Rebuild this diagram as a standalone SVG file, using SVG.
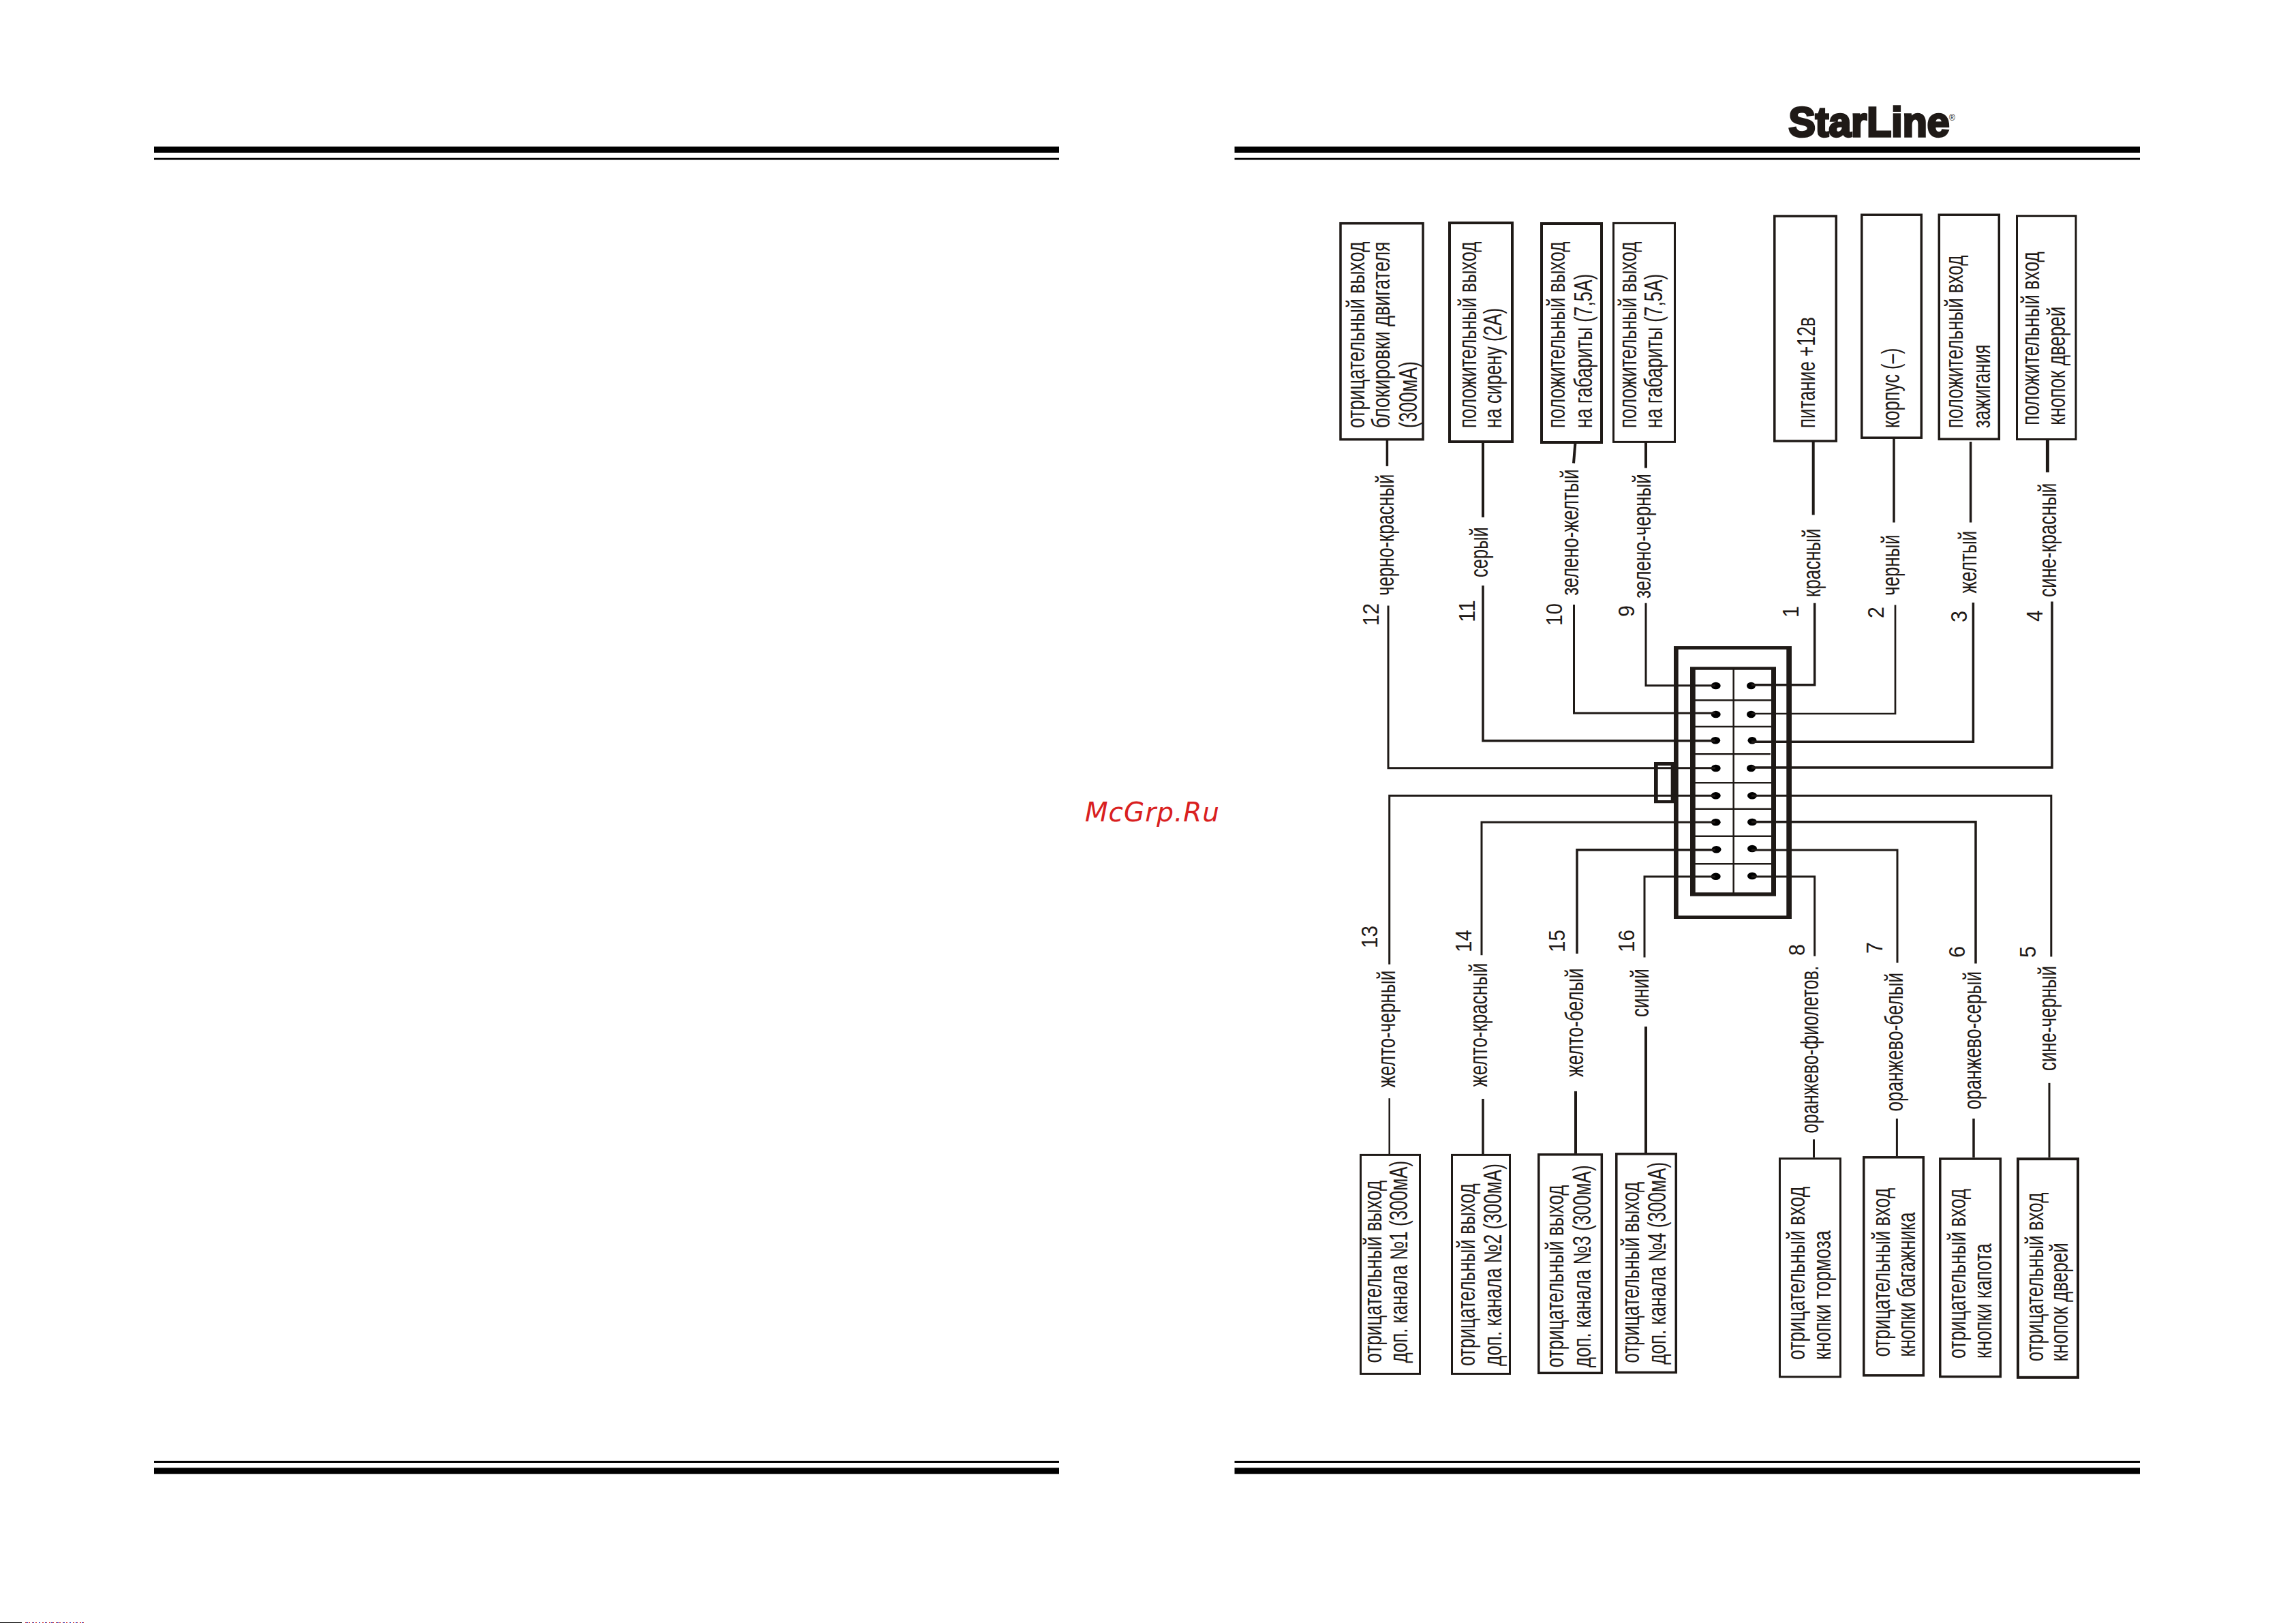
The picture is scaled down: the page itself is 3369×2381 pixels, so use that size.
<svg xmlns="http://www.w3.org/2000/svg" width="3369" height="2381" viewBox="0 0 3369 2381">
<style>
text{font-family:"Liberation Sans",Arial,sans-serif;fill:#1f1a17}
.t{font-size:36px}
.n{font-size:34px}
.b{fill:#fff;stroke:#1f1a17}
.w{fill:none;stroke:#1f1a17}
.r{fill:#000}
</style>
<rect width="3369" height="2381" fill="#fff"/>
<g id="page-rules">
<rect class="r" x="226" y="215" width="1328" height="9"/>
<rect class="r" x="226" y="231.7" width="1328" height="2.8"/>
<rect class="r" x="1811.5" y="215" width="1328.5" height="9"/>
<rect class="r" x="1811.5" y="231.7" width="1328.5" height="2.8"/>
<rect class="r" x="226" y="2143" width="1328" height="3"/>
<rect class="r" x="226" y="2153.3" width="1328" height="9"/>
<rect class="r" x="1811.5" y="2143" width="1328.5" height="3"/>
<rect class="r" x="1811.5" y="2153.3" width="1328.5" height="9"/>
<rect class="r" x="0" y="2380" width="32" height="1"/>
<path d="M37 2380.5H123" stroke="#d02020" stroke-width="1" stroke-dasharray="2 3"/>
<path d="M39 2380.5H123" stroke="#2030c0" stroke-width="1" stroke-dasharray="2 7"/>
</g>
<g id="logo">
<text x="2624.5" y="200" font-size="62" font-weight="bold" stroke="#1f1a17" stroke-width="3.5" textLength="236" lengthAdjust="spacingAndGlyphs">StarLine</text>
<text x="2860" y="177" font-size="12">®</text>
</g>
<g id="watermark">
<text x="1592" y="1205" font-size="39" font-style="italic" textLength="197" style="font-family:'DejaVu Sans',sans-serif;fill:#d92020">McGrp.Ru</text>
</g>
<g id="connector-block">
<path fill="#1f1a17" fill-rule="evenodd" d="M2456 948H2629V1348H2456ZM2462.7 952.7V1343.3H2621.3V952.7ZM2480 978.3V1314.7H2606V978.3ZM2487.7 982.7H2599V1309.3H2487.7Z"/>
<path fill="#1f1a17" fill-rule="evenodd" d="M2427 1118H2457V1178.3H2427ZM2432.7 1123.3V1174H2451.7V1123.3Z"/>
<path class="w" stroke-width="2.5" d="M2543.7 980V1312M2487 1027.3H2599M2487 1066H2599M2487 1106.3H2598M2487 1148.3H2599M2487 1186.7H2599M2487 1226.7H2599M2487 1267.3H2599"/>
<g fill="#000">
<ellipse cx="2517.7" cy="1006" rx="7" ry="5.3"/><ellipse cx="2517.7" cy="1048" rx="7" ry="5.3"/><ellipse cx="2517.2" cy="1086.3" rx="7" ry="5.3"/><ellipse cx="2517.7" cy="1127" rx="7" ry="5.3"/><ellipse cx="2517.7" cy="1167.3" rx="7" ry="5.3"/><ellipse cx="2517.7" cy="1206.3" rx="7" ry="5.3"/><ellipse cx="2518.5" cy="1246.3" rx="7" ry="5.3"/><ellipse cx="2517.7" cy="1285.7" rx="7" ry="5.3"/>
<ellipse cx="2569.5" cy="1006" rx="6.5" ry="5.3"/><ellipse cx="2569.5" cy="1048" rx="6.5" ry="5.3"/><ellipse cx="2571" cy="1086.3" rx="6.5" ry="5.3"/><ellipse cx="2569.5" cy="1127" rx="6.5" ry="5.3"/><ellipse cx="2571" cy="1167.3" rx="7" ry="5.3"/><ellipse cx="2571" cy="1206" rx="7" ry="5.3"/><ellipse cx="2571" cy="1245" rx="7" ry="5.3"/><ellipse cx="2571" cy="1285" rx="7" ry="5.3"/>
</g>
</g>
<g id="connectors">
<path class="w" stroke-width="3" d="M2415 884.8V1005.7H2517"/>
<path class="w" stroke-width="3" d="M2309.5 887V1046.3H2517"/>
<path class="w" stroke-width="3.5" d="M2176 858.9V1086.7H2517"/>
<path class="w" stroke-width="3" d="M2037 888.4V1126.7H2517"/>
<path class="w" stroke-width="3" d="M2038.7 1414.7V1167.3H2517"/>
<path class="w" stroke-width="3" d="M2174 1401.3V1206.3H2517"/>
<path class="w" stroke-width="3.5" d="M2314 1399V1246.7H2517"/>
<path class="w" stroke-width="3" d="M2413 1404.5V1286H2517"/>
<path class="w" stroke-width="3.5" d="M2662.7 884.8V1004.7H2570"/>
<path class="w" stroke-width="2.7" d="M2781 887.5V1047H2570"/>
<path class="w" stroke-width="3.5" d="M2895.4 883.9V1088.3H2570"/>
<path class="w" stroke-width="3.5" d="M3011 882.6V1126H2570"/>
<path class="w" stroke-width="3" d="M3009.8 1403.6V1167.3H2570"/>
<path class="w" stroke-width="3.5" d="M2899 1413.4V1205.7H2570"/>
<path class="w" stroke-width="3" d="M2784 1412.5V1247H2570"/>
<path class="w" stroke-width="3" d="M2662.7 1402.7V1286H2570"/>
<path class="w" stroke-width="3.5" d="M2035.4 646V683.9"/>
<path class="w" stroke-width="4" d="M2176 648V758.9"/>
<path class="w" stroke-width="4" d="M2311.5 649L2309 679.5"/>
<path class="w" stroke-width="4" d="M2415 648V686.6"/>
<path class="w" stroke-width="4" d="M2660.7 647V755.4"/>
<path class="w" stroke-width="3.5" d="M2779 642V766.5"/>
<path class="w" stroke-width="3.5" d="M2891.6 648V766.5"/>
<path class="w" stroke-width="5" d="M3004.4 645V692.9"/>
<path class="w" stroke-width="2.5" d="M2038.7 1611.2V1693"/>
<path class="w" stroke-width="3.5" d="M2176 1612V1693"/>
<path class="w" stroke-width="4" d="M2312 1600.9V1692"/>
<path class="w" stroke-width="4" d="M2415 1506V1691"/>
<path class="w" stroke-width="3" d="M2661.5 1671.4V1698"/>
<path class="w" stroke-width="3" d="M2783.4 1641V1696"/>
<path class="w" stroke-width="3.5" d="M2896 1641V1698"/>
<path class="w" stroke-width="3" d="M3007 1588.8V1698"/>
</g>
<g id="wire-labels">
<text class="t" transform="translate(2044.5 873.7) rotate(-90)" textLength="178" lengthAdjust="spacingAndGlyphs">черно-красный</text>
<text class="t" transform="translate(2183 846.9) rotate(-90)" textLength="73.7" lengthAdjust="spacingAndGlyphs">серый</text>
<text class="t" transform="translate(2316 873.7) rotate(-90)" textLength="185.3" lengthAdjust="spacingAndGlyphs">зелено-желтый</text>
<text class="t" transform="translate(2422 878.1) rotate(-90)" textLength="183" lengthAdjust="spacingAndGlyphs">зелено-черный</text>
<text class="t" transform="translate(2671 875.9) rotate(-90)" textLength="100.5" lengthAdjust="spacingAndGlyphs">красный</text>
<text class="t" transform="translate(2787 873.7) rotate(-90)" textLength="89.3" lengthAdjust="spacingAndGlyphs">черный</text>
<text class="t" transform="translate(2900 870.5) rotate(-90)" textLength="92" lengthAdjust="spacingAndGlyphs">желтый</text>
<text class="t" transform="translate(3017 875.9) rotate(-90)" textLength="167.4" lengthAdjust="spacingAndGlyphs">сине-красный</text>
<text class="t" transform="translate(2047.4 1595.5) rotate(-90)" textLength="171.8" lengthAdjust="spacingAndGlyphs">желто-черный</text>
<text class="t" transform="translate(2182 1594.6) rotate(-90)" textLength="182" lengthAdjust="spacingAndGlyphs">желто-красный</text>
<text class="t" transform="translate(2323 1579.9) rotate(-90)" textLength="159.4" lengthAdjust="spacingAndGlyphs">желто-белый</text>
<text class="t" transform="translate(2418.5 1492) rotate(-90)" textLength="70.6" lengthAdjust="spacingAndGlyphs">синий</text>
<text class="t" transform="translate(2668 1662.5) rotate(-90)" textLength="245.5" lengthAdjust="spacingAndGlyphs">оранжево-фиолетов.</text>
<text class="t" transform="translate(2791.7 1630.4) rotate(-90)" textLength="203.6" lengthAdjust="spacingAndGlyphs">оранжево-белый</text>
<text class="t" transform="translate(2906.6 1627.7) rotate(-90)" textLength="202.7" lengthAdjust="spacingAndGlyphs">оранжево-серый</text>
<text class="t" transform="translate(3017 1571) rotate(-90)" textLength="154" lengthAdjust="spacingAndGlyphs">сине-черный</text>
<text class="n" transform="translate(2022.5 918) rotate(-90)" textLength="33" lengthAdjust="spacingAndGlyphs">12</text>
<text class="n" transform="translate(2163.5 913) rotate(-90)" textLength="33" lengthAdjust="spacingAndGlyphs">11</text>
<text class="n" transform="translate(2292 918) rotate(-90)" textLength="33" lengthAdjust="spacingAndGlyphs">10</text>
<text class="n" transform="translate(2398 905) rotate(-90)" textLength="17" lengthAdjust="spacingAndGlyphs">9</text>
<text class="n" transform="translate(2639 906) rotate(-90)" textLength="17" lengthAdjust="spacingAndGlyphs">1</text>
<text class="n" transform="translate(2763.5 907) rotate(-90)" textLength="17" lengthAdjust="spacingAndGlyphs">2</text>
<text class="n" transform="translate(2886 913) rotate(-90)" textLength="17" lengthAdjust="spacingAndGlyphs">3</text>
<text class="n" transform="translate(2997 912) rotate(-90)" textLength="17" lengthAdjust="spacingAndGlyphs">4</text>
<text class="n" transform="translate(2020.5 1391) rotate(-90)" textLength="33" lengthAdjust="spacingAndGlyphs">13</text>
<text class="n" transform="translate(2159 1397) rotate(-90)" textLength="33" lengthAdjust="spacingAndGlyphs">14</text>
<text class="n" transform="translate(2296 1397) rotate(-90)" textLength="33" lengthAdjust="spacingAndGlyphs">15</text>
<text class="n" transform="translate(2397.8 1397) rotate(-90)" textLength="33" lengthAdjust="spacingAndGlyphs">16</text>
<text class="n" transform="translate(2648 1402) rotate(-90)" textLength="17" lengthAdjust="spacingAndGlyphs">8</text>
<text class="n" transform="translate(2762 1399) rotate(-90)" textLength="17" lengthAdjust="spacingAndGlyphs">7</text>
<text class="n" transform="translate(2883 1405) rotate(-90)" textLength="17" lengthAdjust="spacingAndGlyphs">6</text>
<text class="n" transform="translate(2987.4 1405) rotate(-90)" textLength="17" lengthAdjust="spacingAndGlyphs">5</text>
</g>
<g id="box-12"><rect class="b" x="1967" y="327.7" width="121" height="317" stroke-width="3.5"/>
<text class="t" transform="translate(2001.8 628.1) rotate(-90)" textLength="273.6" lengthAdjust="spacingAndGlyphs">отрицательный выход</text>
<text class="t" transform="translate(2039 628.1) rotate(-90)" textLength="273.6" lengthAdjust="spacingAndGlyphs">блокировки двигателя</text>
<text class="t" transform="translate(2078.5 628.1) rotate(-90)" textLength="98" lengthAdjust="spacingAndGlyphs">(300мА)</text></g>
<g id="box-11"><rect class="b" x="2127" y="327" width="92" height="321" stroke-width="4"/>
<text class="t" transform="translate(2165.6 628.1) rotate(-90)" textLength="273.6" lengthAdjust="spacingAndGlyphs">положительный выход</text>
<text class="t" transform="translate(2203 628.1) rotate(-90)" textLength="176.3" lengthAdjust="spacingAndGlyphs">на сирену (2А)</text></g>
<g id="box-10"><rect class="b" x="2262" y="328" width="88" height="321" stroke-width="4"/>
<text class="t" transform="translate(2296 628.1) rotate(-90)" textLength="273.6" lengthAdjust="spacingAndGlyphs">положительный выход</text>
<text class="t" transform="translate(2335.6 628.1) rotate(-90)" textLength="226.3" lengthAdjust="spacingAndGlyphs">на габариты (7,5А)</text></g>
<g id="box-9"><rect class="b" x="2367.5" y="327.4" width="90" height="321" stroke-width="3"/>
<text class="t" transform="translate(2400.7 628.1) rotate(-90)" textLength="273.6" lengthAdjust="spacingAndGlyphs">положительный выход</text>
<text class="t" transform="translate(2439 628.1) rotate(-90)" textLength="226.3" lengthAdjust="spacingAndGlyphs">на габариты (7,5А)</text></g>
<g id="box-1"><rect class="b" x="2603.8" y="317" width="90.5" height="330" stroke-width="3.5"/>
<text class="t" transform="translate(2662.8 628.1) rotate(-90)" textLength="163" lengthAdjust="spacingAndGlyphs">питание +12в</text></g>
<g id="box-2"><rect class="b" x="2731.8" y="315.2" width="87.5" height="327" stroke-width="3.5"/>
<text class="t" transform="translate(2787 628.1) rotate(-90)" textLength="117.4" lengthAdjust="spacingAndGlyphs">корпус (–)</text></g>
<g id="box-3"><rect class="b" x="2845.3" y="315.2" width="88" height="329" stroke-width="3.5"/>
<text class="t" transform="translate(2880.4 628.1) rotate(-90)" textLength="253.5" lengthAdjust="spacingAndGlyphs">положительный вход</text>
<text class="t" transform="translate(2920 628.1) rotate(-90)" textLength="122.7" lengthAdjust="spacingAndGlyphs">зажигания</text></g>
<g id="box-4"><rect class="b" x="2959.5" y="316.7" width="86.5" height="327.8" stroke-width="3"/>
<text class="t" transform="translate(2991.5 623.7) rotate(-90)" textLength="254.5" lengthAdjust="spacingAndGlyphs">положительный вход</text>
<text class="t" transform="translate(3030 623.7) rotate(-90)" textLength="174" lengthAdjust="spacingAndGlyphs">кнопок дверей</text></g>
<g id="box-13"><rect class="b" x="1996.5" y="1694.4" width="87" height="321" stroke-width="3"/>
<text class="t" transform="translate(2026.7 1999.6) rotate(-90)" textLength="267.9" lengthAdjust="spacingAndGlyphs">отрицательный выход</text>
<text class="t" transform="translate(2065 1999.6) rotate(-90)" textLength="296.9" lengthAdjust="spacingAndGlyphs">доп. канала №1 (300мА)</text></g>
<g id="box-14"><rect class="b" x="2130.5" y="1694.4" width="85" height="321" stroke-width="3"/>
<text class="t" transform="translate(2163.5 2004) rotate(-90)" textLength="267.8" lengthAdjust="spacingAndGlyphs">отрицательный выход</text>
<text class="t" transform="translate(2203 2004) rotate(-90)" textLength="296.9" lengthAdjust="spacingAndGlyphs">доп. канала №2 (300мА)</text></g>
<g id="box-15"><rect class="b" x="2257.8" y="1693.8" width="92.5" height="320.5" stroke-width="3.5"/>
<text class="t" transform="translate(2294 2006.3) rotate(-90)" textLength="267.9" lengthAdjust="spacingAndGlyphs">отрицательный выход</text>
<text class="t" transform="translate(2333.5 2006.3) rotate(-90)" textLength="296.9" lengthAdjust="spacingAndGlyphs">доп. канала №3 (300мА)</text></g>
<g id="box-16"><rect class="b" x="2371.8" y="1692.8" width="87.5" height="320.6" stroke-width="3.5"/>
<text class="t" transform="translate(2405 1999.6) rotate(-90)" textLength="265.7" lengthAdjust="spacingAndGlyphs">отрицательный выход</text>
<text class="t" transform="translate(2444 2001.8) rotate(-90)" textLength="296.9" lengthAdjust="spacingAndGlyphs">доп. канала №4 (300мА)</text></g>
<g id="box-8"><rect class="b" x="2611.5" y="1699.7" width="89" height="320.2" stroke-width="3"/>
<text class="t" transform="translate(2648 1995) rotate(-90)" textLength="254.4" lengthAdjust="spacingAndGlyphs">отрицательный вход</text>
<text class="t" transform="translate(2686 1995) rotate(-90)" textLength="189.7" lengthAdjust="spacingAndGlyphs">кнопки тормоза</text></g>
<g id="box-7"><rect class="b" x="2734.8" y="1697.8" width="87.5" height="320" stroke-width="3.5"/>
<text class="t" transform="translate(2772.6 1990.6) rotate(-90)" textLength="247.7" lengthAdjust="spacingAndGlyphs">отрицательный вход</text>
<text class="t" transform="translate(2810 1990.6) rotate(-90)" textLength="212" lengthAdjust="spacingAndGlyphs">кнопки багажника</text></g>
<g id="box-6"><rect class="b" x="2846.8" y="1700" width="88.5" height="319.6" stroke-width="3.5"/>
<text class="t" transform="translate(2883.7 1992.9) rotate(-90)" textLength="249" lengthAdjust="spacingAndGlyphs">отрицательный вход</text>
<text class="t" transform="translate(2922 1992.9) rotate(-90)" textLength="168.8" lengthAdjust="spacingAndGlyphs">кнопки капота</text></g>
<g id="box-5"><rect class="b" x="2961" y="1700.2" width="88" height="320.6" stroke-width="4"/>
<text class="t" transform="translate(2997.8 1997.3) rotate(-90)" textLength="247.7" lengthAdjust="spacingAndGlyphs">отрицательный вход</text>
<text class="t" transform="translate(3034 1997.3) rotate(-90)" textLength="174" lengthAdjust="spacingAndGlyphs">кнопок дверей</text></g>
</svg>
